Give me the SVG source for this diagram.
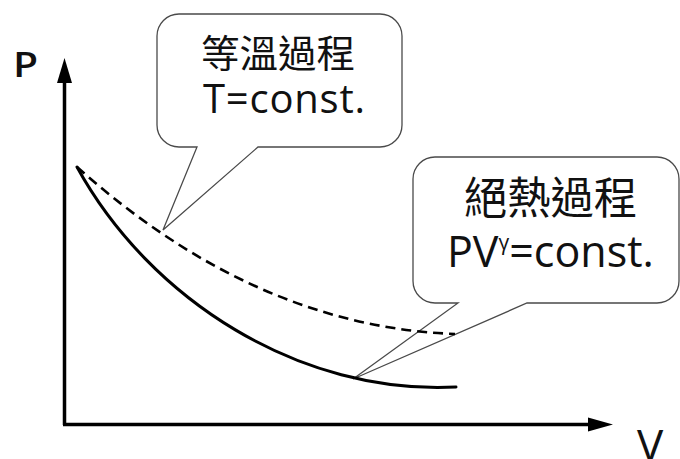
<svg xmlns="http://www.w3.org/2000/svg" width="680" height="459" viewBox="0 0 680 459">
  <style>
    .callout { fill: #ffffff; stroke: #4a4a4a; stroke-width: 1.3; stroke-linejoin: miter; }
    .cjk { font-family: "Noto Sans CJK TC", "Noto Sans", sans-serif; fill: #111; }
    .lat { font-family: "Open Sans", "Noto Sans", sans-serif; fill: #111; }
    .axis { stroke: #000; stroke-width: 3.5; fill: none; }
    .curve { stroke: #000; fill: none; stroke-width: 3; stroke-linecap: round; }
    .dash { stroke-dasharray: 10 6; stroke-width: 2.6; stroke-linecap: butt; }
  </style>
  <rect width="680" height="459" fill="#ffffff"/>

  <g id="axes">
    <path class="axis" d="M64.5,425 V70"/>
    <path d="M57,83 L64.5,58 L72,83 Z" fill="#000"/>
    <path class="axis" d="M63,424.5 H600"/>
    <path d="M588,417.5 L613,424.5 L588,431.5 Z" fill="#000"/>
    <text class="lat" transform="translate(13,77) scale(1.2,1)" x="0" y="0" font-size="34" font-weight="600">P</text>
    <text class="lat" x="637" y="461" font-size="44">V</text>
  </g>

  <g id="callout-isothermal">
    <path class="callout" d="M179,14 H380 A22,22 0 0 1 402,36 V125 A22,22 0 0 1 380,147 H258 L163,230 L197,147 H179 A22,22 0 0 1 157,125 V36 A22,22 0 0 1 179,14 Z"/>
    <text class="cjk" x="201" y="67" font-size="38" textLength="154" lengthAdjust="spacingAndGlyphs">等溫過程</text>
    <text class="lat" x="203" y="113" font-size="40" textLength="162" lengthAdjust="spacing">T=const.</text>
  </g>

  <g id="callout-adiabatic">
    <path class="callout" d="M435,157 H657 A22,22 0 0 1 679,179 V281 A22,22 0 0 1 657,303 H527 L353,379 L458,303 H435 A22,22 0 0 1 413,281 V179 A22,22 0 0 1 435,157 Z"/>
    <text class="cjk" x="464" y="214" font-size="44" textLength="173" lengthAdjust="spacingAndGlyphs">絕熱過程</text>
    <text class="lat" x="447" y="267" font-size="43">PV<tspan font-size="21" dy="-17">γ</tspan><tspan dy="17">=const.</tspan></text>
  </g>

  <g id="connectors">
    <path id="adiabatic-curve" class="curve" d="M77,167 C150,300 300,395 456,387"/>
    <path id="isothermal-curve" class="curve dash" d="M77,167 C170,250 295,328 455,334"/>
  </g>
</svg>
